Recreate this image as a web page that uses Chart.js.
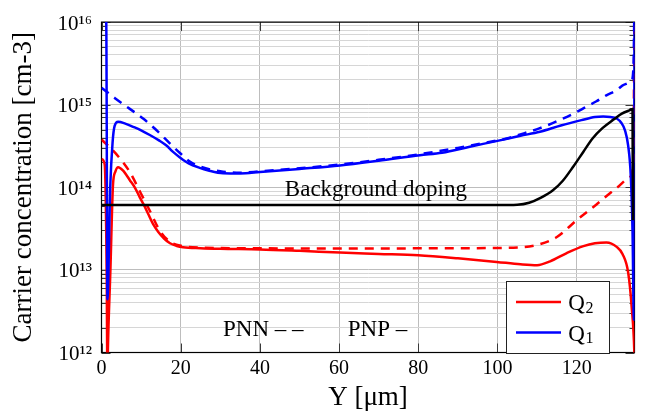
<!DOCTYPE html>
<html>
<head>
<meta charset="utf-8">
<script src="https://cdn.jsdelivr.net/npm/chart.js@4.4.1/dist/chart.umd.min.js"></script>
<style>
html,body{margin:0;padding:0;background:#fff;}
#wrap{width:647px;height:416px;}
</style>
</head>
<body>
<div id="wrap"><canvas id="c" width="647" height="416"></canvas></div>
<script>
// ---------- data ----------
const xTickValues = [0, 20, 40, 60, 80, 100, 120];
const yDecades = [12, 13, 14, 15, 16];
const yMinorMultipliers = [2, 3, 4, 5, 6, 7, 8, 9];

// Q1, PNP (blue solid)
const q1PnpX = [0, 1.2, 1.5, 2.2, 2.8, 3.3, 4.2, 6, 8, 10, 12.2, 14.5, 16.4, 18, 19.8, 22, 24.8, 27, 30.7, 35, 40, 50, 60.2, 70, 80.4, 86, 93, 100, 105.8, 110.7, 116, 121.2, 124.6, 126.7, 128.5, 130.1, 131.3, 132.2, 133, 133.65, 134.1, 134.45, 134.6];
const q1PnpY = [3e16, 1e16, 4.4e12, 1e14, 3.5e14, 5.5e14, 6.2e14, 5.9e14, 5.4e14, 4.9e14, 4.3e14, 3.7e14, 3.2e14, 2.7e14, 2.3e14, 1.95e14, 1.72e14, 1.6e14, 1.48e14, 1.47e14, 1.53e14, 1.67e14, 1.84e14, 2.1e14, 2.45e14, 2.62e14, 3.1e14, 3.65e14, 4.2e14, 4.7e14, 5.6e14, 6.5e14, 7.1e14, 7.2e14, 7.1e14, 6.8e14, 6.0e14, 4.9e14, 3.2e14, 1.4e14, 3e13, 2.5e12, 2e16];

// Q1, PNN (blue dashed)
const q1PnnX = [0, 3.4, 7.15, 10.5, 13.9, 17.25, 19.8, 22.3, 25, 30, 35, 40, 50, 60, 70, 80, 90, 100, 102.3, 106, 110.7, 115, 119.2, 122, 125, 127.5, 130.1, 132, 133.9, 134.35, 134.6];
const q1PnnY = [1.6e15, 1.2e15, 8.9e14, 6.8e14, 4.9e14, 3.4e14, 2.6e14, 2.05e14, 1.78e14, 1.56e14, 1.5e14, 1.56e14, 1.7e14, 1.88e14, 2.15e14, 2.5e14, 3.0e14, 3.7e14, 3.9e14, 4.4e14, 5.2e14, 6.3e14, 7.8e14, 9.2e14, 1.1e15, 1.3e15, 1.5e15, 1.75e15, 2.0e15, 3e15, 2e16];

// Q2, PNP (red solid)
const q2PnpX = [0, 0.8, 1.3, 1.5, 1.6, 2.25, 2.9, 3.5, 4.2, 5.4, 7.15, 8.5, 9.7, 10.8, 11.8, 13, 14.3, 15.8, 17.3, 19, 20.6, 25, 30, 40, 50, 60.2, 70, 80, 90, 99.8, 105.8, 110, 113.3, 117.5, 121.7, 124.6, 127.5, 130.1, 131.6, 133, 133.9, 134.56, 134.6];
const q2PnpY = [2.2e14, 1.9e14, 1e13, 5e11, 1e12, 1e13, 1.07e14, 1.55e14, 1.75e14, 1.6e14, 1.22e14, 9.8e13, 7.5e13, 6e13, 4.75e13, 3.6e13, 2.9e13, 2.4e13, 2.1e13, 1.95e13, 1.88e13, 1.83e13, 1.8e13, 1.77e13, 1.7e13, 1.62e13, 1.56e13, 1.5e13, 1.38e13, 1.25e13, 1.17e13, 1.14e13, 1.27e13, 1.6e13, 1.94e13, 2.1e13, 2.15e13, 1.9e13, 1.55e13, 9.3e12, 3.5e12, 1e12, 8e11];

// Q2, PNN (red dashed)
const q2PnnX = [0, 3.8, 7.15, 9.7, 12.2, 14.7, 17.25, 20.6, 25, 35, 50, 70, 90, 104, 109.9, 115, 120, 125, 130.1, 133.5, 134.3, 134.6];
const q2PnnY = [3.8e14, 2.5e14, 1.53e14, 8.9e13, 5.2e13, 3.0e13, 2.2e13, 1.94e13, 1.86e13, 1.83e13, 1.82e13, 1.82e13, 1.83e13, 1.86e13, 2.0e13, 2.5e13, 4.0e13, 6.2e13, 9.8e13, 1.34e14, 2e14, 2e16];

// Background doping (black)
const dopingX = [0, 50, 100, 105, 108, 111, 114, 116.5, 119.2, 121.7, 124, 126.5, 129.3, 131.4, 133.7, 134.1, 134.2];
const dopingY = [6.1e13, 6.1e13, 6.1e13, 6.15e13, 6.5e13, 7.5e13, 9.2e13, 1.2e14, 1.8e14, 2.7e14, 3.9e14, 5.2e14, 6.6e14, 7.8e14, 8.7e14, 8.9e14, 4e13];

const legendLabels = ['Q', 'Q'];
const legendSubs = ['2', '1'];
const noteTexts = ['Background doping', 'PNN \u2013 \u2013', 'PNP \u2013'];
const noteX = [46.3, 30.7, 62.2];
const noteY = [7.9e13, 1.6e12, 1.6e12];

// ---------- helpers ----------
const RED = '#ff0000', BLUE = '#0000ff', BLACK = '#000000';
const FONT = "'Liberation Serif', 'Times New Roman', serif";
const SUP = {'0':'\u2070','1':'\u00b9','2':'\u00b2','3':'\u00b3','4':'\u2074','5':'\u2075','6':'\u2076','7':'\u2077','8':'\u2078','9':'\u2079'};
const pts = (xs, ys) => xs.map((x, i) => ({x: x, y: ys[i]}));
const isDecade = v => { const e = Math.log10(v); return Math.abs(e - Math.round(e)) < 1e-6; };

// ---------- plugins ----------
const framePlugin = {
  id: 'frame',
  beforeDatasetsDraw(chart) {
    const {ctx, chartArea: a, scales: {x, y}} = chart;
    ctx.save();
    ctx.strokeStyle = '#3a3a3a';
    ctx.lineWidth = 1;
    ctx.beginPath();
    x.ticks.forEach(t => {
      const px = Math.round(x.getPixelForValue(t.value)) + 0.5;
      ctx.moveTo(px, a.bottom); ctx.lineTo(px, a.bottom - 9);
      ctx.moveTo(px, a.top); ctx.lineTo(px, a.top + 9);
    });
    y.ticks.forEach(t => {
      const py = Math.round(y.getPixelForValue(t.value)) + 0.5;
      const len = isDecade(t.value) ? 9 : 5;
      ctx.moveTo(a.left, py); ctx.lineTo(a.left + len, py);
      ctx.moveTo(a.right, py); ctx.lineTo(a.right - len, py);
    });
    ctx.stroke();
    ctx.strokeStyle = '#000';
    ctx.lineWidth = 1.2;
    ctx.strokeRect(a.left, a.top, a.right - a.left, a.bottom - a.top);
    ctx.restore();
  }
};

const notesPlugin = {
  id: 'notes',
  afterDatasetsDraw(chart) {
    const {ctx, scales: {x, y}} = chart;
    ctx.save();
    ctx.font = '23px ' + FONT;
    ctx.fillStyle = '#000';
    ctx.textAlign = 'left';
    ctx.textBaseline = 'alphabetic';
    noteTexts.forEach((t, i) => ctx.fillText(t, x.getPixelForValue(noteX[i]), y.getPixelForValue(noteY[i])));
    ctx.restore();
  }
};

const legendPlugin = {
  id: 'qlegend',
  afterDraw(chart) {
    const {ctx, chartArea: a} = chart;
    const bx = Math.round(a.left + 404) + 0.5, by = Math.round(a.top + 259) + 0.5;
    const bw = 103, bh = 72;
    const colors = [RED, BLUE];
    ctx.save();
    ctx.fillStyle = '#fff';
    ctx.fillRect(bx, by, bw, bh);
    ctx.strokeStyle = '#222';
    ctx.lineWidth = 1;
    ctx.strokeRect(bx, by, bw, bh);
    legendLabels.forEach((lab, i) => {
      const ly = by + 20.5 + i * 30.6;
      ctx.strokeStyle = colors[i];
      ctx.lineWidth = 2.5;
      ctx.beginPath();
      ctx.moveTo(bx + 9.5, ly); ctx.lineTo(bx + 54.5, ly);
      ctx.stroke();
      ctx.fillStyle = '#000';
      ctx.textBaseline = 'alphabetic';
      ctx.font = '23px ' + FONT;
      const tx = bx + 61.8;
      ctx.fillText(lab, tx, ly + 8.2);
      const w = ctx.measureText(lab).width;
      ctx.font = '16px ' + FONT;
      ctx.fillText(legendSubs[i], tx + w + 0.5, ly + 10.5);
    });
    ctx.restore();
  }
};

// ---------- chart ----------
new Chart(document.getElementById('c'), {
  type: 'line',
  data: {
    datasets: [
      {label: 'Background doping', data: pts(dopingX, dopingY), borderColor: BLACK, order: 0},
      {label: 'Q\u2081 PNP', data: pts(q1PnpX, q1PnpY), borderColor: BLUE, order: 1},
      {label: 'Q\u2081 PNN', data: pts(q1PnnX, q1PnnY), borderColor: BLUE, borderDash: [9, 7], order: 2},
      {label: 'Q\u2082 PNP', data: pts(q2PnpX, q2PnpY), borderColor: RED, order: 3},
      {label: 'Q\u2082 PNN', data: pts(q2PnnX, q2PnnY), borderColor: RED, borderDash: [9, 7], order: 4}
    ]
  },
  options: {
    responsive: false,
    animation: false,
    devicePixelRatio: 1,
    elements: {
      point: {radius: 0, hoverRadius: 0},
      line: {borderWidth: 2.5, cubicInterpolationMode: 'monotone', fill: false}
    },
    layout: {padding: {left: 0, right: 12.5, top: 12.5, bottom: 0}},
    plugins: {legend: {display: false}, tooltip: {enabled: false}},
    scales: {
      x: {
        type: 'linear', min: 0, max: 134.6,
        afterBuildTicks: s => { s.ticks = xTickValues.map(v => ({value: v})); },
        afterFit: s => { s.height = 63.5; },
        grid: {color: '#bdbdbd', lineWidth: 1, drawTicks: false},
        border: {display: false},
        ticks: {color: '#000', font: {family: FONT, size: 20}, padding: 4, maxRotation: 0, autoSkip: false, callback: v => String(v)},
        title: {display: true, text: 'Y [\u03bcm]', color: '#000', font: {family: FONT, size: 27}, padding: {top: 0, bottom: 2}}
      },
      y: {
        type: 'logarithmic', min: 1e12, max: 1e16,
        afterBuildTicks: s => {
          const t = [];
          yDecades.forEach((e, i) => {
            t.push({value: Math.pow(10, e)});
            if (i < yDecades.length - 1) yMinorMultipliers.forEach(m => t.push({value: m * Math.pow(10, e)}));
          });
          s.ticks = t;
        },
        afterFit: s => { s.width = 101.5; },
        grid: {color: c => (c.tick && isDecade(c.tick.value)) ? '#bdbdbd' : '#d6d6d6', lineWidth: 1, drawTicks: false},
        border: {display: false},
        ticks: {
          color: '#000', font: {family: FONT, size: 21}, padding: 9.5, autoSkip: false, labelOffset: 2,
          callback: v => isDecade(v) ? '10' + String(Math.round(Math.log10(v))).split('').map(c => SUP[c]).join('') : ''
        },
        title: {display: true, text: 'Carrier concentration [cm-3]', color: '#000', font: {family: FONT, size: 27}, padding: {top: 7.8, bottom: 0}}
      }
    }
  },
  plugins: [framePlugin, notesPlugin, legendPlugin]
});
</script>
</body>
</html>
